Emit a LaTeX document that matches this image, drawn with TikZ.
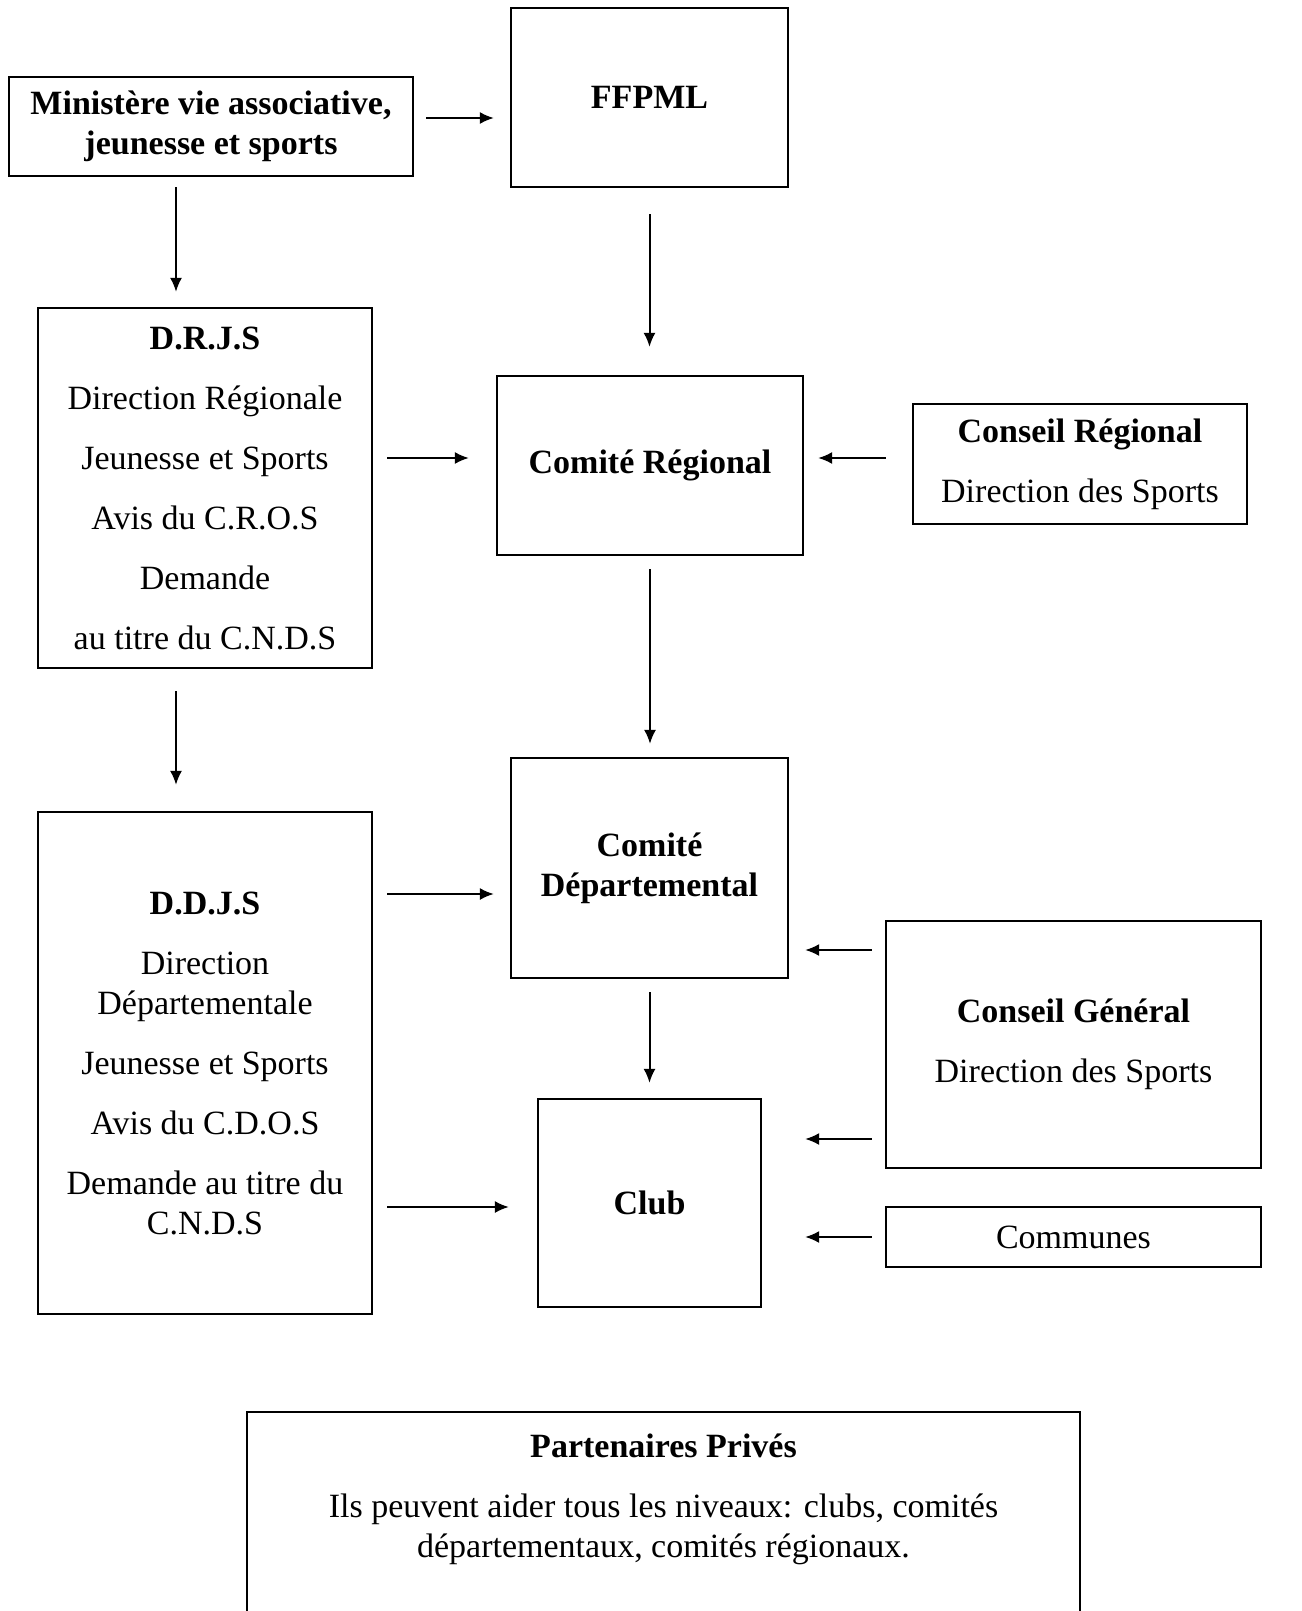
\documentclass[tikz,border=0pt]{standalone}
\usepackage{fontspec}
\setmainfont{Liberation Serif}
\usetikzlibrary{arrows.meta}

\begin{document}
\begin{tikzpicture}[x=0.5pt,y=-0.5pt,
    box/.style={draw,line width=1.1pt,inner sep=0pt,align=center,
                font=\fontsize{17}{20}\selectfont},
    arr/.style={line width=1pt,-{Latex[length=7pt,width=6pt]}}]

    \useasboundingbox (0,0) rectangle (1301,1611);

    % ministry
    \node[box,minimum width=202pt,minimum height=49.5pt] (mini) at (211,126.5)
        {\bfseries Ministère vie associative,\\ \bfseries jeunesse et sports};

    % federation
    \node[box,minimum width=138.5pt,minimum height=89.5pt] (ffpml) at (649.5,97.5)
        {\bfseries FFPML};

    % regional direction
    \node[box,minimum width=167pt,minimum height=180pt] (drjs) at (205,488)
        {\bfseries D.R.J.S\\[10pt] Direction Régionale\\[10pt] Jeunesse et Sports\\[10pt]
         Avis du C.R.O.S\\[10pt] Demande\\[10pt] au titre du C.N.D.S};

    % regional committee
    \node[box,minimum width=153pt,minimum height=89.5pt] (creg) at (650,465.5)
        {\bfseries Comité Régional};

    % regional council
    \node[box,minimum width=167pt,minimum height=60pt] (conreg) at (1080,464)
        {\bfseries Conseil Régional\\[10pt] Direction des Sports};

    % departmental committee
    \node[box,minimum width=138.5pt,minimum height=110pt] (cdep) at (649.5,868)
        {\bfseries Comité\\ \bfseries Départemental};

    % departmental direction
    \node[box,minimum width=167pt,minimum height=251pt] (ddjs) at (205,1063)
        {\bfseries D.D.J.S\\[10pt] Direction\\ Départementale\\[10pt] Jeunesse et Sports\\[10pt]
         Avis du C.D.O.S\\[10pt] Demande au titre du\\ C.N.D.S};

    % general council
    \node[box,minimum width=187.5pt,minimum height=123.5pt] (cgen) at (1073.5,1044.5)
        {\bfseries Conseil Général\\[10pt] Direction des Sports};

    % club
    \node[box,minimum width=111.5pt,minimum height=104pt] (club) at (649.5,1203)
        {\bfseries Club};

    % towns
    \node[box,minimum width=187.5pt,minimum height=30pt] (communes) at (1073.5,1237)
        {Communes};

    % private partners
    \node[box,anchor=north,minimum width=416.5pt,inner ysep=11pt] (part) at (663.5,1411)
        {\bfseries Partenaires Privés\\[10pt]
         Ils peuvent aider tous les niveaux: clubs, comités\\
         départementaux, comités régionaux.\\[40pt]\mbox{}};

    %%%%%%%%%%%%%%%%%%%%%%%%%%%%%%%%%%%%%%%%%%%%%%%%%%%%%%

    % ministry to federation
    \draw[arr,shorten <=6pt,shorten >=8pt] ([yshift=4.25pt]mini.east) -- ([yshift=4.25pt]mini.east -| ffpml.west);

    % ministry down to regional direction
    \draw[arr,shorten <=5pt,shorten >=7.5pt] ([xshift=-17.5pt]mini.south) -- ([xshift=-17.5pt]mini.south |- drjs.north);

    % federation down to regional committee
    \draw[arr,shorten <=13pt,shorten >=14pt] (ffpml.south) -- (ffpml.south |- creg.north);

    % regional direction to regional committee
    \draw[arr,shorten <=7pt,shorten >=13.5pt] ([yshift=15pt]drjs.east) -- ([yshift=15pt]drjs.east -| creg.west);

    % regional council to regional committee
    \draw[arr,shorten <=13pt,shorten >=7pt] ([yshift=3pt]conreg.west) -- ([yshift=3pt]conreg.west -| creg.east);

    % regional direction down to departmental direction
    \draw[arr,shorten <=11pt,shorten >=13pt] ([xshift=-14.5pt]drjs.south) -- ([xshift=-14.5pt]drjs.south |- ddjs.north);

    % regional committee down to departmental committee
    \draw[arr,shorten <=6.5pt,shorten >=6.5pt] (creg.south) -- (creg.south |- cdep.north);

    % departmental direction to departmental committee
    \draw[arr,shorten <=7pt,shorten >=8pt] ([yshift=84.5pt]ddjs.east) -- ([yshift=84.5pt]ddjs.east -| cdep.west);

    % general council to departmental committee
    \draw[arr,shorten <=6.5pt,shorten >=8pt] ([yshift=47.25pt]cgen.west) -- ([yshift=47.25pt]cgen.west -| cdep.east);

    % departmental committee down to club
    \draw[arr,shorten <=6.5pt,shorten >=7.5pt] (cdep.south) -- (cdep.south |- club.north);

    % general council to club
    \draw[arr,shorten <=6.5pt,shorten >=21.5pt] ([yshift=-47.25pt]cgen.west) -- ([yshift=-47.25pt]cgen.west -| club.east);

    % towns to club
    \draw[arr,shorten <=6.5pt,shorten >=21.5pt] (communes.west) -- (communes.west -| club.east);

    % departmental direction to club
    \draw[arr,shorten <=7pt,shorten >=14pt] ([yshift=-72pt]ddjs.east) -- ([yshift=-72pt]ddjs.east -| club.west);

\end{tikzpicture}
\end{document}
